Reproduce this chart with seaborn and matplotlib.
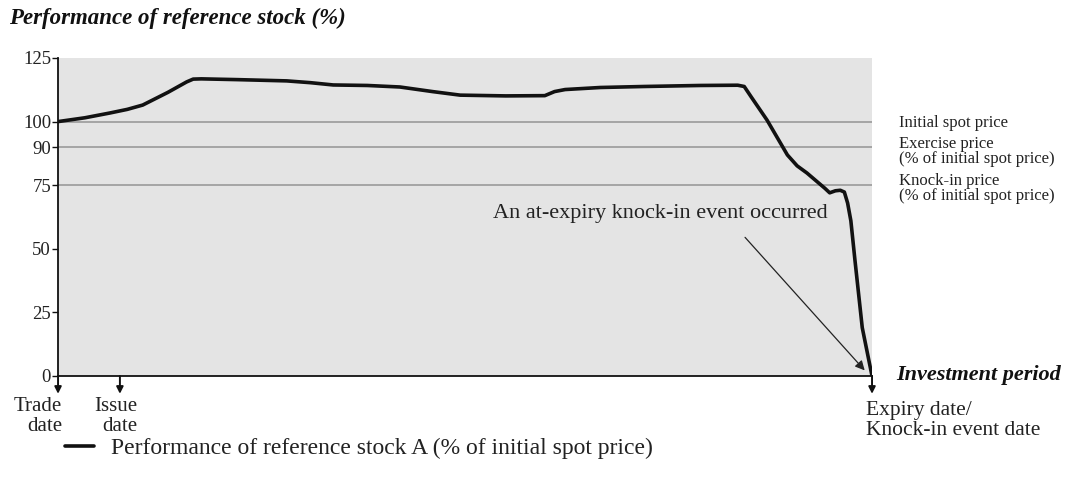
import numpy as np
import pandas as pd
import matplotlib
matplotlib.use("Agg")
import matplotlib.pyplot as plt
import seaborn as sns

# ── Data ────────────────────────────────────────────────────
period = [0, 3.3, 6.4, 8.5, 10.4, 13.5, 15.8, 16.6, 17.6, 22, 28.1, 31,
          33.8, 38, 42, 46, 49.4, 55, 59.8, 61, 62.3, 66.6, 72, 78.9, 83.5,
          84.3, 85.2, 87.1, 89.6, 90.8, 92, 94.2, 94.8, 95.5, 96.1, 96.6,
          97.0, 97.4, 97.9, 98.8, 100]
stock_a = [100, 101.5, 103.4, 104.8, 106.5, 111.5, 115.6, 116.7, 116.8,
           116.5, 116, 115.3, 114.4, 114.2, 113.6, 111.8, 110.4, 110.1,
           110.2, 111.8, 112.6, 113.4, 113.8, 114.2, 114.3, 113.8, 109.5,
           100.6, 86.9, 82.6, 79.8, 73.8, 72, 72.8, 73, 72.3, 68, 61, 45.6,
           19, 0]
ref_levels = [100, 90, 75]
ref_labels = ["Initial spot price",
              "Exercise price\n(% of initial spot price)",
              "Knock-in price\n(% of initial spot price)"]
y_ticks = [0, 25, 50, 75, 90, 100, 125]
date_marks = [0, 7.6, 100]
date_labels = ["Trade\ndate", "Issue\ndate", "Expiry date/\nKnock-in event date"]

df = pd.DataFrame({"period": period, "perf": stock_a})

# ── Style ───────────────────────────────────────────────────
sns.set_style("white")
plt.rcParams["font.family"] = ["Liberation Serif", "DejaVu Serif"]

fig = plt.figure(figsize=(10.65, 4.94), dpi=100)
ax = fig.add_axes([0.0545, 0.2389, 0.7643, 0.6437])
ax.set_facecolor("#e4e4e4")

for lvl in ref_levels:
    ax.axhline(lvl, color="#9a9a9a", lw=1.2, zorder=1)

sns.lineplot(data=df, x="period", y="perf", ax=ax, color="#111111",
             lw=2.6, zorder=3,
             label="Performance of reference stock A (% of initial spot price)",
             legend=False)
ax.get_lines()[-1].set_solid_joinstyle("round")

ax.set_xlim(0, 100)
ax.set_ylim(0, 125)
ax.set_yticks(y_ticks)
ax.set_yticklabels([str(t) for t in y_ticks], fontsize=13.5)
ax.set_xticks([])
ax.set_xlabel("")
ax.set_ylabel("")
for s in ["top", "right"]:
    ax.spines[s].set_visible(False)
for s in ["left", "bottom"]:
    ax.spines[s].set_color("#111111")
    ax.spines[s].set_linewidth(1.3)
ax.tick_params(axis="y", length=4, width=1, color="#111111", pad=1,
               left=True, labelcolor="#222222")

# reference level labels on the right
label_y = [99.6, 88.3, 73.8]
for ly, txt in zip(label_y, ref_labels):
    ax.text(103.3, ly, txt, fontsize=12, va="center", ha="left",
            linespacing=0.92, color="#222222", clip_on=False)

# date arrows below the axis
for xm in date_marks:
    ax.annotate("", xy=(xm, -7), xytext=(xm, 0),
                arrowprops=dict(arrowstyle="-|>", color="#111111", lw=1.4,
                                mutation_scale=10, shrinkA=0, shrinkB=0),
                annotation_clip=False)
ax.text(0.5, -8.3, date_labels[0], fontsize=15, ha="right", va="top",
        linespacing=1.1, color="#222222", clip_on=False)
ax.text(9.7, -8.3, date_labels[1], fontsize=15, ha="right", va="top",
        linespacing=1.1, color="#222222", clip_on=False)
ax.text(99.3, -9.8, date_labels[2], fontsize=15.5, ha="left", va="top",
        linespacing=1.1, color="#222222", clip_on=False)

ax.text(103, 0.5, "Investment period", fontsize=16, fontweight="bold",
        fontstyle="italic", ha="left", va="center", color="#111111",
        clip_on=False)

# knock-in annotation
ax.text(74.0, 64, "An at-expiry knock-in event occurred", fontsize=16,
        ha="center", va="center", color="#222222")
ax.annotate("", xy=(99.1, 2.2), xytext=(84.4, 54.5),
            arrowprops=dict(arrowstyle="-|>", color="#222222", lw=0.9,
                            mutation_scale=14, shrinkA=0, shrinkB=0))

# title
fig.text(0.008, 0.962, "Performance of reference stock (%)", fontsize=16.5,
         fontweight="bold", fontstyle="italic", ha="left", va="center",
         color="#111111")

# legend
leg = fig.legend(*ax.get_legend_handles_labels(), loc="center left",
                 bbox_to_anchor=(0.052, 0.093), frameon=False, fontsize=17,
                 handlelength=1.25, handletextpad=0.7, borderaxespad=0)
for t in leg.get_texts():
    t.set_color("#222222")

fig.savefig("out.png", dpi=100)
